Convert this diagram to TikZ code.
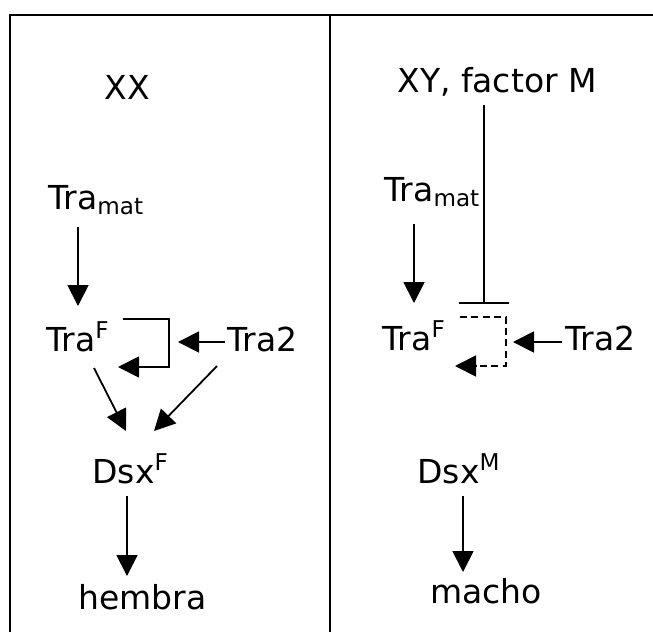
\documentclass[tikz,border=0pt]{standalone}
\usepackage{fontspec}
\setmainfont{DejaVu Sans}
\usepackage{tikz}
\usetikzlibrary{calc,arrows.meta}

\begin{document}
\begin{tikzpicture}[x=0.5pt, y=-0.5pt,
  lbl/.style={inner sep=0pt, anchor=base west, font=\fontsize{16.5}{20}\selectfont},
  arr/.style={-{Triangle[length=10.5pt,width=10.5pt]}, line width=0.9pt},
  inh/.style={-{Bar[width=25pt]}, line width=0.9pt},
  frame/.style={line width=1pt}]
  \useasboundingbox (0,0) rectangle (653,632);

  % Marco / tabla
  \draw[frame] (10,632) -- (10,15) -- (653,15);
  \draw[frame] (330,15) -- (330,632);

  % Columna XX
  \node[lbl] (xx) at (104,99) {XX};
  \node[lbl] (tmatL) at (48,209) {Tra\textsubscript{mat}};
  \node[lbl] (traL) at (46,351) {Tra\textsuperscript{F}};
  \node[lbl] (tra2L) at (227,351) {Tra2};
  \node[lbl] (dsxF) at (92,483) {Dsx\textsuperscript{F}};
  \node[lbl] (hembra) at (78,609) {hembra};

  \draw[arr] ($(tmatL.base west)+(30,18)$) -- ($(traL.base west)+(32,-45)$);
  \draw[arr] ($(traL.base west)+(77,-32)$) -- ++(46,0) |- ($(traL.base west)+(72,16)$);
  \draw[arr] ($(tra2L.base west)+(-2,-9)$) -- ++(-47,0);
  \draw[arr] ($(traL.base west)+(48,17)$) -- ($(dsxF.base west)+(34,-52)$);
  \draw[arr] ($(tra2L.base west)+(-10,15)$) -- ($(dsxF.base west)+(62,-52)$);
  \draw[arr] ($(dsxF.base west)+(35,13)$) -- ($(hembra.base west)+(49,-33)$);

  % Columna XY
  \node[lbl] (xy) at (397,92) {XY, factor M};
  \node[lbl] (tmatR) at (384,201) {Tra\textsubscript{mat}};
  \node[lbl] (traR) at (382,350) {Tra\textsuperscript{F}};
  \node[lbl] (tra2R) at (565,350) {Tra2};
  \node[lbl] (dsxM) at (417,483) {Dsx\textsuperscript{M}};
  \node[lbl] (macho) at (430,603) {macho};

  \draw[arr] ($(tmatR.base west)+(30,23)$) -- ($(traR.base west)+(32,-47)$);
  \draw[inh] ($(xy.base west)+(87,13)$) -- ($(traR.base west)+(102,-46)$);
  \draw[arr, dash pattern=on 3.5pt off 2.2pt] ($(traR.base west)+(78,-33)$) -- ++(46,0) |- ($(traR.base west)+(73,16)$);
  \draw[arr] ($(tra2R.base west)+(-3,-8)$) -- ++(-49,0);
  \draw[arr] ($(dsxM.base west)+(46,13)$) -- ($(macho.base west)+(33,-31)$);
\end{tikzpicture}
\end{document}
